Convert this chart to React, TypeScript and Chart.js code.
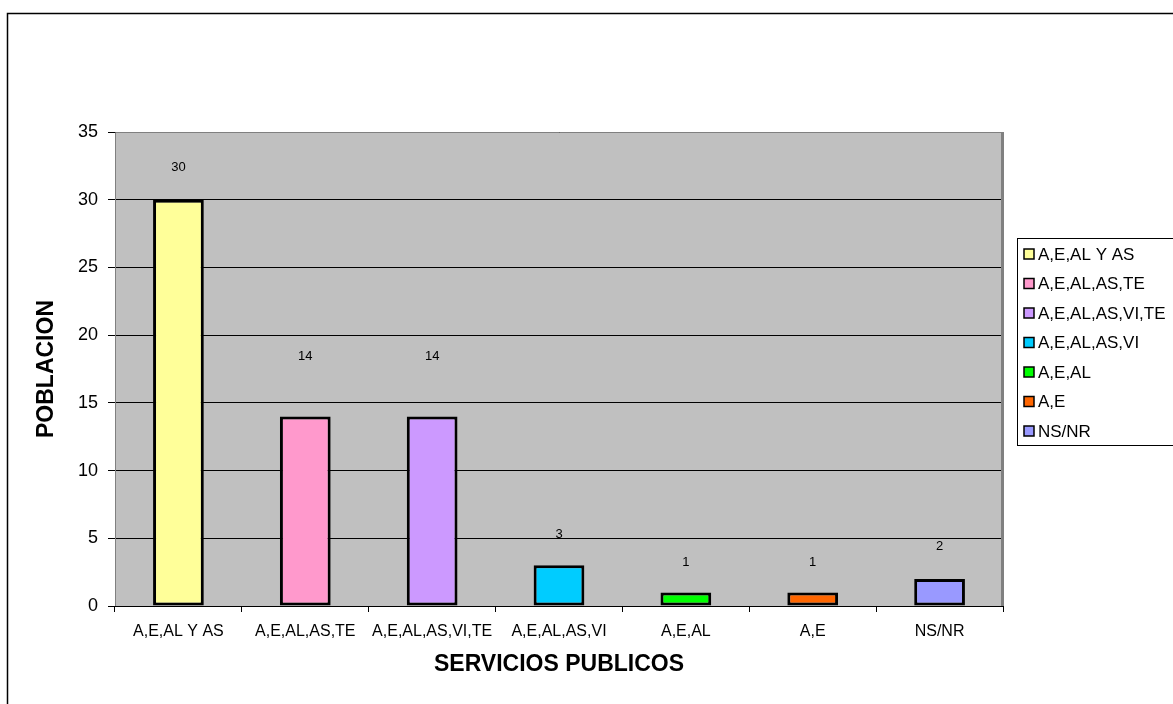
import React, { useEffect, useRef } from "react";
import { Chart, registerables } from "chart.js";

Chart.register(...registerables);

// Servicios públicos con que cuenta la población
const categories = [
  "A,E,AL Y AS",
  "A,E,AL,AS,TE",
  "A,E,AL,AS,VI,TE",
  "A,E,AL,AS,VI",
  "A,E,AL",
  "A,E",
  "NS/NR",
];
const poblacion = [30, 14, 14, 3, 1, 1, 2];
const barColors = ["#FFFF99", "#FF99CC", "#CC99FF", "#00CCFF", "#00FF00", "#FF6600", "#9999FF"];
const yTicks = [0, 5, 10, 15, 20, 25, 30, 35];

const FONT = "'Liberation Sans', Arial, sans-serif";
// vertical gap (px) between a bar's top and its value label
const labelLift = [32, 60, 60, 31, 30, 30, 32];

const framePlugin = {
  id: "frame",
  beforeDraw(chart: any) {
    const { ctx, chartArea: a } = chart;
    ctx.save();
    ctx.fillStyle = "#ffffff";
    ctx.fillRect(0, 0, chart.width, chart.height);
    // outer chart border
    ctx.strokeStyle = "#000000";
    ctx.lineWidth = 1.5;
    ctx.strokeRect(7.5, 13.5, chart.width + 20, chart.height + 20);
    // plot area
    ctx.fillStyle = "#C0C0C0";
    ctx.fillRect(a.left, a.top, a.right - a.left, a.bottom - a.top);
    ctx.restore();
  },
  afterDatasetsDraw(chart: any) {
    const { ctx, chartArea: a } = chart;
    ctx.save();
    ctx.strokeStyle = "#808080";
    ctx.lineWidth = 1;
    ctx.beginPath();
    ctx.moveTo(a.left + 0.5, a.bottom);
    ctx.lineTo(a.left + 0.5, a.top + 0.5);
    ctx.lineTo(a.right, a.top + 0.5);
    ctx.stroke();
    ctx.lineWidth = 3;
    ctx.beginPath();
    ctx.moveTo(a.right - 0.5, a.top);
    ctx.lineTo(a.right - 0.5, a.bottom);
    ctx.stroke();
    ctx.strokeStyle = "#000000";
    ctx.lineWidth = 1;
    ctx.beginPath();
    ctx.moveTo(a.left, a.bottom + 0.5);
    ctx.lineTo(a.right + 1, a.bottom + 0.5);
    ctx.stroke();

    // value labels
    const meta = chart.getDatasetMeta(0);
    ctx.fillStyle = "#000000";
    ctx.font = `13px ${FONT}`;
    ctx.textAlign = "center";
    ctx.textBaseline = "middle";
    meta.data.forEach((bar: any, i: number) => {
      ctx.fillText(String(poblacion[i]), bar.x, bar.y - labelLift[i]);
    });

    // axis titles
    ctx.font = `bold 23px ${FONT}`;
    ctx.fillText("SERVICIOS PUBLICOS", (a.left + a.right) / 2, 665);
    ctx.save();
    ctx.translate(47, (a.top + a.bottom) / 2);
    ctx.rotate(-Math.PI / 2);
    ctx.fillText("POBLACION", 0, 0);
    ctx.restore();

    // legend
    const lx = 1017.5;
    const ly = 238.5;
    ctx.strokeStyle = "#000000";
    ctx.lineWidth = 1;
    ctx.fillStyle = "#ffffff";
    ctx.fillRect(lx, ly, 300, 207);
    ctx.strokeRect(lx, ly, 300, 207);
    ctx.font = `17px ${FONT}`;
    ctx.textAlign = "left";
    categories.forEach((c, i) => {
      const cy = 254 + i * 29.5;
      ctx.fillStyle = barColors[i];
      ctx.fillRect(1024, cy - 5, 10, 10);
      ctx.lineWidth = 1.5;
      ctx.strokeStyle = "#000000";
      ctx.strokeRect(1024, cy - 5, 10, 10);
      ctx.fillStyle = "#000000";
      ctx.fillText(c, 1038, cy + 1);
    });
    ctx.restore();
  },
};

export default function App() {
  const ref = useRef<HTMLCanvasElement>(null);
  useEffect(() => {
    const chart = new Chart(ref.current!, {
      type: "bar",
      data: {
        labels: categories,
        datasets: [
          {
            data: poblacion,
            backgroundColor: barColors,
            borderColor: "#000000",
            borderWidth: 3,
            borderSkipped: false,
            categoryPercentage: 1,
            barPercentage: 0.4,
          },
        ],
      },
      options: {
        animation: false,
        responsive: false,
        maintainAspectRatio: false,
        layout: { padding: { left: 0, top: 132, right: 170, bottom: 0 } },
        plugins: { legend: { display: false }, tooltip: { enabled: false } },
        scales: {
          x: {
            offset: true,
            grid: {
              offset: true,
              drawOnChartArea: false,
              drawTicks: true,
              tickLength: 6,
              color: "#000000",
            },
            border: { display: false },
            ticks: {
              color: "#000000",
              font: { family: FONT, size: 16 },
              padding: 10,
              maxRotation: 0,
              autoSkip: false,
            },
            afterFit(s: any) {
              s.height = 98;
            },
          },
          y: {
            min: 0,
            max: 35,
            afterBuildTicks(s: any) {
              s.ticks = yTicks.map((v) => ({ value: v }));
            },
            grid: { color: "#000000", tickLength: 7, lineWidth: 1 },
            border: { display: false },
            ticks: {
              color: "#000000",
              font: { family: FONT, size: 18 },
              padding: 10,
            },
            afterFit(s: any) {
              s.width = 115;
            },
          },
        },
      },
      plugins: [framePlugin],
    });
    return () => chart.destroy();
  }, []);
  return (
    <div style={{ position: "fixed", left: 0, top: 0, width: 1173, height: 704 }}>
      <canvas ref={ref} width={1173} height={704} style={{ display: "block" }} />
    </div>
  );
}
